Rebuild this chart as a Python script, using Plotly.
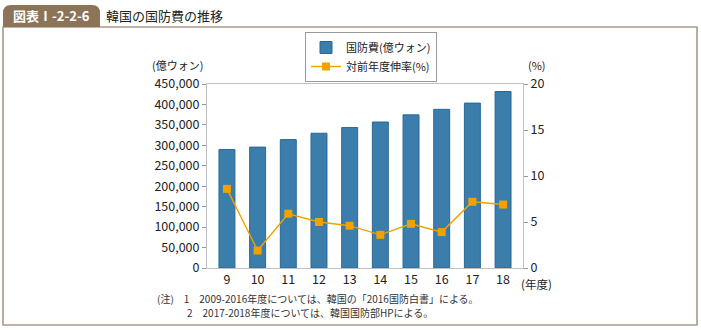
import plotly.graph_objects as go

years = ["9", "10", "11", "12", "13", "14", "15", "16", "17", "18"]
budget = [289803, 295627, 314031, 329576, 343453, 357057, 374560, 387995, 403347, 431581]
growth = [8.6, 1.9, 5.9, 5.0, 4.6, 3.6, 4.8, 3.9, 7.2, 6.9]

W, H = 701, 330
L, R, T, B = 207, 523, 84, 268
FONT = "Noto Sans CJK JP, Noto Sans, sans-serif"


def px(x):
    return (x - L) / (R - L)


def py(y):
    return (B - y) / (B - T)


fig = go.Figure()
fig.add_trace(go.Bar(
    x=years, y=budget, name="国防費(億ウォン)",
    marker=dict(color="#3b7dab", line=dict(color="#2a6898", width=1)),
    width=0.52,
))
fig.add_trace(go.Scatter(
    x=years, y=growth, name="対前年度伸率(%)", yaxis="y2",
    mode="lines+markers",
    line=dict(color="#f2a100", width=1.4),
    marker=dict(symbol="square", size=8, color="#f2a100"),
))

shapes = []
# outer frame
shapes.append(dict(type="rect", xref="paper", yref="paper",
                   x0=px(3), x1=px(697), y0=py(325), y1=py(27),
                   line=dict(color="#a89a8b", width=1.6), layer="below"))
# tab
x0, x1, y0, y1, r = px(3), px(100), py(27), py(5), 8
rx = r / (R - L)
ry = r / (B - T)
path = (f"M {x0},{y0} L {x0},{y1 - ry} Q {x0},{y1} {x0 + rx},{y1} "
        f"L {x1 - rx},{y1} Q {x1},{y1} {x1},{y1 - ry} L {x1},{y0} Z")
shapes.append(dict(type="path", xref="paper", yref="paper", path=path,
                   fillcolor="#8b7457", line=dict(width=0)))

annotations = [
    dict(text="<b>図表Ⅰ-2-2-6</b>", x=px(51), y=py(16), xref="paper", yref="paper",
         showarrow=False, font=dict(color="white", size=13, family=FONT),
         xanchor="center", yanchor="middle"),
    dict(text="韓国の国防費の推移", x=px(104), y=py(16), xref="paper", yref="paper",
         showarrow=False, font=dict(color="#222", size=13, family=FONT),
         xanchor="left", yanchor="middle"),
    dict(text="(億ウォン)", x=px(205), y=py(65), xref="paper", yref="paper",
         showarrow=False, font=dict(color="#222", size=11, family=FONT),
         xanchor="right", yanchor="middle"),
    dict(text="(%)", x=px(526), y=py(65), xref="paper", yref="paper",
         showarrow=False, font=dict(color="#222", size=11, family=FONT),
         xanchor="left", yanchor="middle"),
    dict(text="(年度)", x=px(519), y=py(284), xref="paper", yref="paper",
         showarrow=False, font=dict(color="#222", size=11.5, family=FONT),
         xanchor="left", yanchor="middle"),
    dict(text="(注)　1　2009-2016年度については、韓国の「2016国防白書」による。",
         x=px(155), y=py(298), xref="paper", yref="paper",
         showarrow=False, font=dict(color="#333", size=10, family=FONT),
         xanchor="left", yanchor="middle"),
    dict(text="2　2017-2018年度については、韓国国防部HPによる。",
         x=px(185), y=py(312), xref="paper", yref="paper",
         showarrow=False, font=dict(color="#333", size=10, family=FONT),
         xanchor="left", yanchor="middle"),
]

fig.update_layout(
    width=W, height=H,
    margin=dict(l=L, r=W - R, t=T, b=H - B, pad=0),
    paper_bgcolor="white", plot_bgcolor="white",
    font=dict(family=FONT, size=12, color="#222"),
    showlegend=True,
    legend=dict(x=px(305), y=py(32), xanchor="left", yanchor="top",
                bordercolor="#9a9a9a", borderwidth=1, bgcolor="white",
                font=dict(size=11, family=FONT), tracegroupgap=0),
    xaxis=dict(type="category", range=[-0.65, 9.65], showline=True,
               linecolor="#c0c0c0", linewidth=1, mirror=True, ticks="",
               tickfont=dict(size=12.5), showgrid=False),
    yaxis=dict(range=[0, 450000], dtick=50000, tickformat=",",
               showline=True, linecolor="#c0c0c0", ticks="outside",
               ticklen=4, tickcolor="#999", showgrid=False, zeroline=False,
               tickfont=dict(size=12.5)),
    yaxis2=dict(range=[0, 20], dtick=5, overlaying="y", side="right",
                showline=True, linecolor="#c0c0c0", ticks="outside",
                ticklen=4, tickcolor="#999", showgrid=False, zeroline=False,
                tickfont=dict(size=12.5)),
    shapes=shapes, annotations=annotations,
)

fig.write_html("out.html")
